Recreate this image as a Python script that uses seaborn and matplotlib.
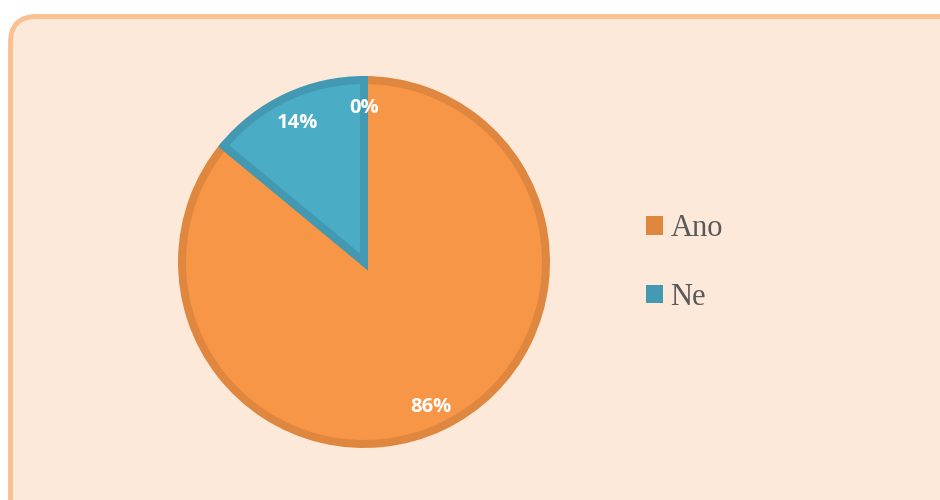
import matplotlib
matplotlib.use("Agg")
import matplotlib.pyplot as plt
import seaborn as sns
from matplotlib.patches import FancyBboxPatch, Patch

# data
categories = ["Ano", "Ne", ""]
values = [86, 14, 0]
fill_colors = ["#F79646", "#4BACC6", "#9BBB59"]
edge_colors = ["#E0873F", "#4499B2", "#9BBB59"]
legend_labels = ["Ano", "Ne"]

sns.set_style("white")

fig = plt.figure(figsize=(9.4, 5), dpi=100)
fig.patch.set_facecolor("white")

# rounded background frame
bg = fig.add_axes([0, 0, 1, 1])
bg.set_xlim(0, 940)
bg.set_ylim(500, 0)
bg.axis("off")
frame = FancyBboxPatch((10.5, 16.5), 960, 520,
                       boxstyle="round,pad=0,rounding_size=26",
                       facecolor="#FDE9DA", edgecolor="#FAC090", linewidth=3.5)
bg.add_patch(frame)

# pie axes, centre at (364, 262) px, outer radius 186 px
R = 186
cx, cy = 364, 262
ax = fig.add_axes([(cx - R) / 940, 1 - (cy + R) / 500, 2 * R / 940, 2 * R / 500])

lw_px = 8
wedges, texts, autotexts = ax.pie(
    values,
    colors=fill_colors,
    startangle=90,
    counterclock=False,
    radius=(R - lw_px / 2) / R,
    autopct="%1.0f%%",
    pctdistance=0.865,
    wedgeprops=dict(linewidth=lw_px * 0.72, joinstyle="miter"),
    textprops=dict(color="white", fontsize=14.5, fontweight="bold", family="Open Sans"),
)
ax.set_xlim(-1, 1)
ax.set_ylim(-1, 1)
ax.axis("off")
for w, ec in zip(wedges, edge_colors):
    w.set_edgecolor(ec)
wedges[2].set_linewidth(0)
# nudge the percentage labels down a touch
for t in autotexts:
    x, y = t.get_position()
    t.set_position((x, y - 3 / R))

handles = [Patch(facecolor=edge_colors[i], edgecolor="none") for i in range(2)]
leg = fig.legend(
    handles, legend_labels,
    loc="center left", bbox_to_anchor=(646 / 940, 1 - 263 / 500),
    frameon=False, prop=dict(family="Liberation Serif", size=22),
    handlelength=0.55, handleheight=0.55, handletextpad=0.25,
    labelspacing=1.3, borderpad=0, borderaxespad=0,
)
for t in leg.get_texts():
    t.set_color("#595959")

fig.savefig("out.png", dpi=100)
